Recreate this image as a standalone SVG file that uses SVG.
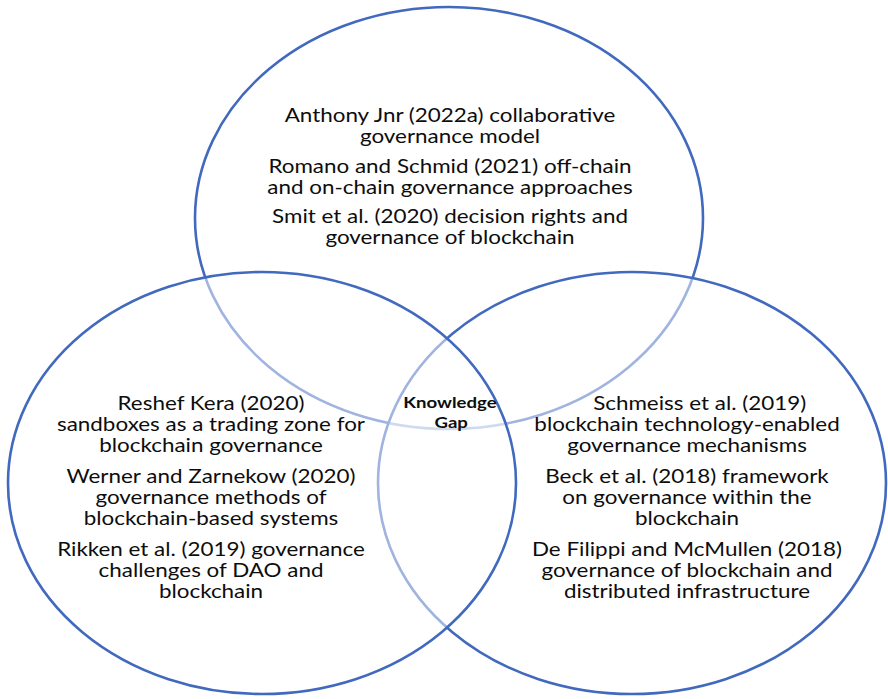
<svg xmlns="http://www.w3.org/2000/svg" width="888" height="699" viewBox="0 0 888 699">
<style>
.c{fill:#ffffff;fill-opacity:0.5;stroke:#4169BE;stroke-width:2.6}
.t{font-family:Lato,"Liberation Sans",sans-serif;font-size:19.5px;fill:#0d0d0d;text-anchor:middle}
.k{font-family:Lato,"Liberation Sans",sans-serif;font-size:15.5px;font-weight:bold;fill:#0d0d0d;text-anchor:middle}
</style>
<rect width="888" height="699" fill="#ffffff"/>
<g id="top">
<ellipse class="c" cx="449" cy="218" rx="254" ry="211"/>
<g transform="translate(450,0) scale(1.15,1)">
<text class="t" x="0" y="122">Anthony Jnr (2022a) collaborative</text>
<text class="t" x="0" y="143">governance model</text>
<text class="t" x="0" y="173">Romano and Schmid (2021) off-chain</text>
<text class="t" x="0" y="194">and on-chain governance approaches</text>
<text class="t" x="0" y="223">Smit et al. (2020) decision rights and</text>
<text class="t" x="0" y="244">governance of blockchain</text>
</g>
</g>
<g id="right">
<ellipse class="c" cx="632" cy="483" rx="254" ry="211"/>
<g transform="translate(687,0) scale(1.15,1)">
<text class="t" x="11" y="410">Schmeiss et al. (2019)</text>
<text class="t" x="0" y="431">blockchain technology-enabled</text>
<text class="t" x="0" y="452">governance mechanisms</text>
<text class="t" x="0" y="483">Beck et al. (2018) framework</text>
<text class="t" x="0" y="504">on governance within the</text>
<text class="t" x="0" y="525">blockchain</text>
<text class="t" x="0" y="556">De Filippi and McMullen (2018)</text>
<text class="t" x="0" y="577">governance of blockchain and</text>
<text class="t" x="0" y="598">distributed infrastructure</text>
</g>
</g>
<g id="left">
<ellipse class="c" cx="262" cy="483" rx="254" ry="211"/>
<g transform="translate(211,0) scale(1.15,1)">
<text class="t" x="0" y="410">Reshef Kera (2020)</text>
<text class="t" x="0" y="431">sandboxes as a trading zone for</text>
<text class="t" x="0" y="452">blockchain governance</text>
<text class="t" x="0" y="483">Werner and Zarnekow (2020)</text>
<text class="t" x="0" y="504">governance methods of</text>
<text class="t" x="0" y="525">blockchain-based systems</text>
<text class="t" x="0" y="556">Rikken et al. (2019) governance</text>
<text class="t" x="0" y="577">challenges of DAO and</text>
<text class="t" x="0" y="598">blockchain</text>
</g>
</g>
<g id="gap">
<g transform="translate(450,0) scale(1.2,1)">
<text class="k" x="0" y="408">Knowledge</text>
<text class="k" x="1" y="428">Gap</text>
</g>
</g>
</svg>
